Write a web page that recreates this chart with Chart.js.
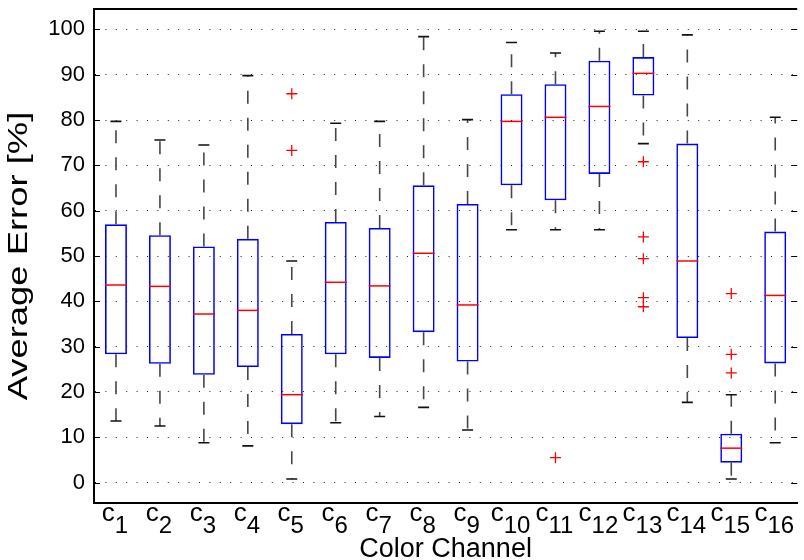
<!DOCTYPE html>
<html lang="en">

<head>
    <meta charset="UTF-8">
    <title>Average Error per Color Channel</title>
    <script src="https://cdn.jsdelivr.net/npm/chart.js"></script>
    <style>
        body { margin: 0; background: #fff; }
        #wrap { width: 804px; height: 560px; }
    </style>
</head>

<body>
    <div id="wrap"><canvas id="boxChart"></canvas></div>

    <script>
        // boxplot data (values in %)
        const categories = ['c1', 'c2', 'c3', 'c4', 'c5', 'c6', 'c7', 'c8', 'c9', 'c10', 'c11', 'c12', 'c13', 'c14', 'c15', 'c16'];
        const channelNums = ['1', '2', '3', '4', '5', '6', '7', '8', '9', '10', '11', '12', '13', '14', '15', '16'];
        const whiskerLow = [13.6, 12.5, 8.8, 8.1, 0.8, 13.2, 14.6, 16.6, 11.6, 55.8, 55.8, 55.8, 74.8, 17.7, 0.8, 8.8];
        const q1 = [28.3, 26.2, 23.8, 25.5, 12.9, 28.3, 27.5, 33.2, 26.7, 65.6, 62.3, 68.1, 85.4, 31.9, 4.4, 26.3];
        const median = [43.6, 43.3, 37.2, 38.0, 19.4, 44.2, 43.4, 50.6, 39.2, 79.7, 80.6, 83.0, 90.3, 48.9, 7.6, 41.3];
        const q3 = [57.0, 54.6, 52.1, 53.8, 32.8, 57.5, 56.2, 65.6, 61.5, 85.7, 87.9, 93.1, 93.9, 74.8, 10.8, 55.4];
        const whiskerHigh = [79.7, 75.6, 74.5, 89.8, 48.9, 79.3, 79.7, 98.4, 80.1, 97.1, 94.8, 99.6, 99.6, 98.8, 19.4, 80.6];
        const outlierCats = ['c5', 'c5', 'c11', 'c13', 'c13', 'c13', 'c13', 'c13', 'c15', 'c15', 'c15'];
        const outlierVals = [85.8, 73.3, 5.5, 70.8, 54.2, 49.4, 40.8, 38.8, 41.7, 28.3, 24.2];
        const yMin = -4.5, yMax = 104.5, yStep = 10;
        const yTitle = 'Average Error [%]';

        const FONT = "'Liberation Sans', Arial, Helvetica, sans-serif";

        // whiskers, caps, medians, inward ticks, frame, subscript labels, y title
        const boxParts = {
            id: 'boxParts',
            afterDatasetsDraw(chart) {
                const { ctx, chartArea, scales: { x, y } } = chart;
                const bars = chart.getDatasetMeta(0).data;
                ctx.save();
                categories.forEach((c, i) => {
                    const cx = x.getPixelForValue(i);
                    const half = bars[i].width / 2;
                    const yHi = y.getPixelForValue(whiskerHigh[i]);
                    const yLo = y.getPixelForValue(whiskerLow[i]);
                    const yQ3 = y.getPixelForValue(q3[i]);
                    const yQ1 = y.getPixelForValue(q1[i]);

                    // dashed whiskers, starting at the box
                    ctx.strokeStyle = '#474747';
                    ctx.lineWidth = 1.6;
                    ctx.setLineDash([13, 14]);
                    ctx.beginPath();
                    ctx.moveTo(cx, yQ3); ctx.lineTo(cx, yHi);
                    ctx.stroke();
                    ctx.beginPath();
                    ctx.moveTo(cx, yQ1); ctx.lineTo(cx, yLo);
                    ctx.stroke();
                    ctx.setLineDash([]);

                    // caps
                    ctx.strokeStyle = '#111';
                    ctx.beginPath();
                    ctx.moveTo(cx - half / 2, yHi); ctx.lineTo(cx + half / 2, yHi);
                    ctx.moveTo(cx - half / 2, yLo); ctx.lineTo(cx + half / 2, yLo);
                    ctx.stroke();

                    // median
                    const yMed = y.getPixelForValue(median[i]);
                    ctx.strokeStyle = '#ff0000';
                    ctx.lineWidth = 1.5;
                    ctx.beginPath();
                    ctx.moveTo(cx - half, yMed); ctx.lineTo(cx + half, yMed);
                    ctx.stroke();
                });

                // inward ticks on both sides
                ctx.strokeStyle = '#000';
                ctx.lineWidth = 1;
                y.ticks.forEach(t => {
                    const ty = Math.round(y.getPixelForValue(t.value)) + 0.5;
                    ctx.beginPath();
                    ctx.moveTo(chartArea.left, ty); ctx.lineTo(chartArea.left + 6, ty);
                    ctx.moveTo(chartArea.right - 6, ty); ctx.lineTo(chartArea.right, ty);
                    ctx.stroke();
                });

                // top frame line
                ctx.lineWidth = 2;
                ctx.beginPath();
                ctx.moveTo(chartArea.left, chartArea.top); ctx.lineTo(chartArea.right, chartArea.top);
                ctx.stroke();

                // x tick labels: c with subscript number
                ctx.fillStyle = '#000';
                ctx.textBaseline = 'alphabetic';
                ctx.textAlign = 'left';
                const cFont = '26px ' + FONT, subFont = '24px ' + FONT;
                channelNums.forEach((n, i) => {
                    const cx = x.getPixelForValue(i);
                    ctx.font = cFont;
                    const wc = ctx.measureText('c').width;
                    ctx.font = subFont;
                    const ws = ctx.measureText(n).width;
                    const sx = cx - (wc + ws) / 2 - 1;
                    ctx.font = cFont;
                    ctx.fillText('c', sx, chartArea.bottom + 18);
                    ctx.font = subFont;
                    ctx.fillText(n, sx + wc, chartArea.bottom + 30);
                });

                // y axis title, a little stretched along its length like the original
                ctx.font = '28px ' + FONT;
                ctx.textAlign = 'center';
                ctx.translate(27, (chartArea.top + chartArea.bottom) / 2);
                ctx.rotate(-Math.PI / 2);
                ctx.scale(1.3, 1);
                ctx.fillText(yTitle, 0, 0);
                ctx.restore();
            }
        };

        const ctx = document.getElementById('boxChart').getContext('2d');
        new Chart(ctx, {
            type: 'bar',
            data: {
                labels: categories,
                datasets: [{
                    label: 'IQR',
                    data: categories.map((c, i) => [q1[i], q3[i]]),
                    backgroundColor: 'rgba(0,0,0,0)',
                    borderColor: '#0000ff',
                    borderWidth: 1.6,
                    borderSkipped: false,
                    categoryPercentage: 1,
                    barPercentage: 0.5
                }, {
                    type: 'scatter',
                    label: 'Outliers',
                    data: outlierCats.map((c, i) => ({ x: c, y: outlierVals[i] })),
                    pointStyle: 'cross',
                    pointRadius: 5.5,
                    borderColor: '#ff0000',
                    borderWidth: 1.3,
                    backgroundColor: '#ff0000'
                }]
            },
            options: {
                responsive: true,
                maintainAspectRatio: false,
                animation: false,
                layout: { padding: { top: 9, left: 0, right: 0, bottom: 0 } },
                plugins: {
                    legend: { display: false },
                    tooltip: { enabled: false }
                },
                scales: {
                    x: {
                        type: 'category',
                        offset: true,
                        grid: { display: false },
                        border: { display: true, color: '#000', width: 2 },
                        ticks: { display: false },
                        title: {
                            display: true,
                            text: 'Color Channel',
                            color: '#000',
                            font: { family: FONT, size: 27, lineHeight: 0.8 },
                            padding: 0
                        },
                        afterFit(scale) {
                            scale.height = 57;
                            scale.paddingLeft = 0; scale.paddingRight = 0;
                        }
                    },
                    y: {
                        min: yMin,
                        max: yMax,
                        ticks: {
                            stepSize: yStep,
                            includeBounds: false,
                            color: '#000',
                            padding: 9,
                            font: { family: FONT, size: 22 }
                        },
                        grid: { color: '#222', lineWidth: 1, drawTicks: false },
                        border: { display: true, color: '#000', width: 2, dash: [1, 9.4] },
                        afterFit(scale) {
                            scale.width = 94;
                            scale.paddingTop = 0; scale.paddingBottom = 0;
                        }
                    }
                }
            },
            plugins: [boxParts]
        });
    </script>
</body>

</html>
